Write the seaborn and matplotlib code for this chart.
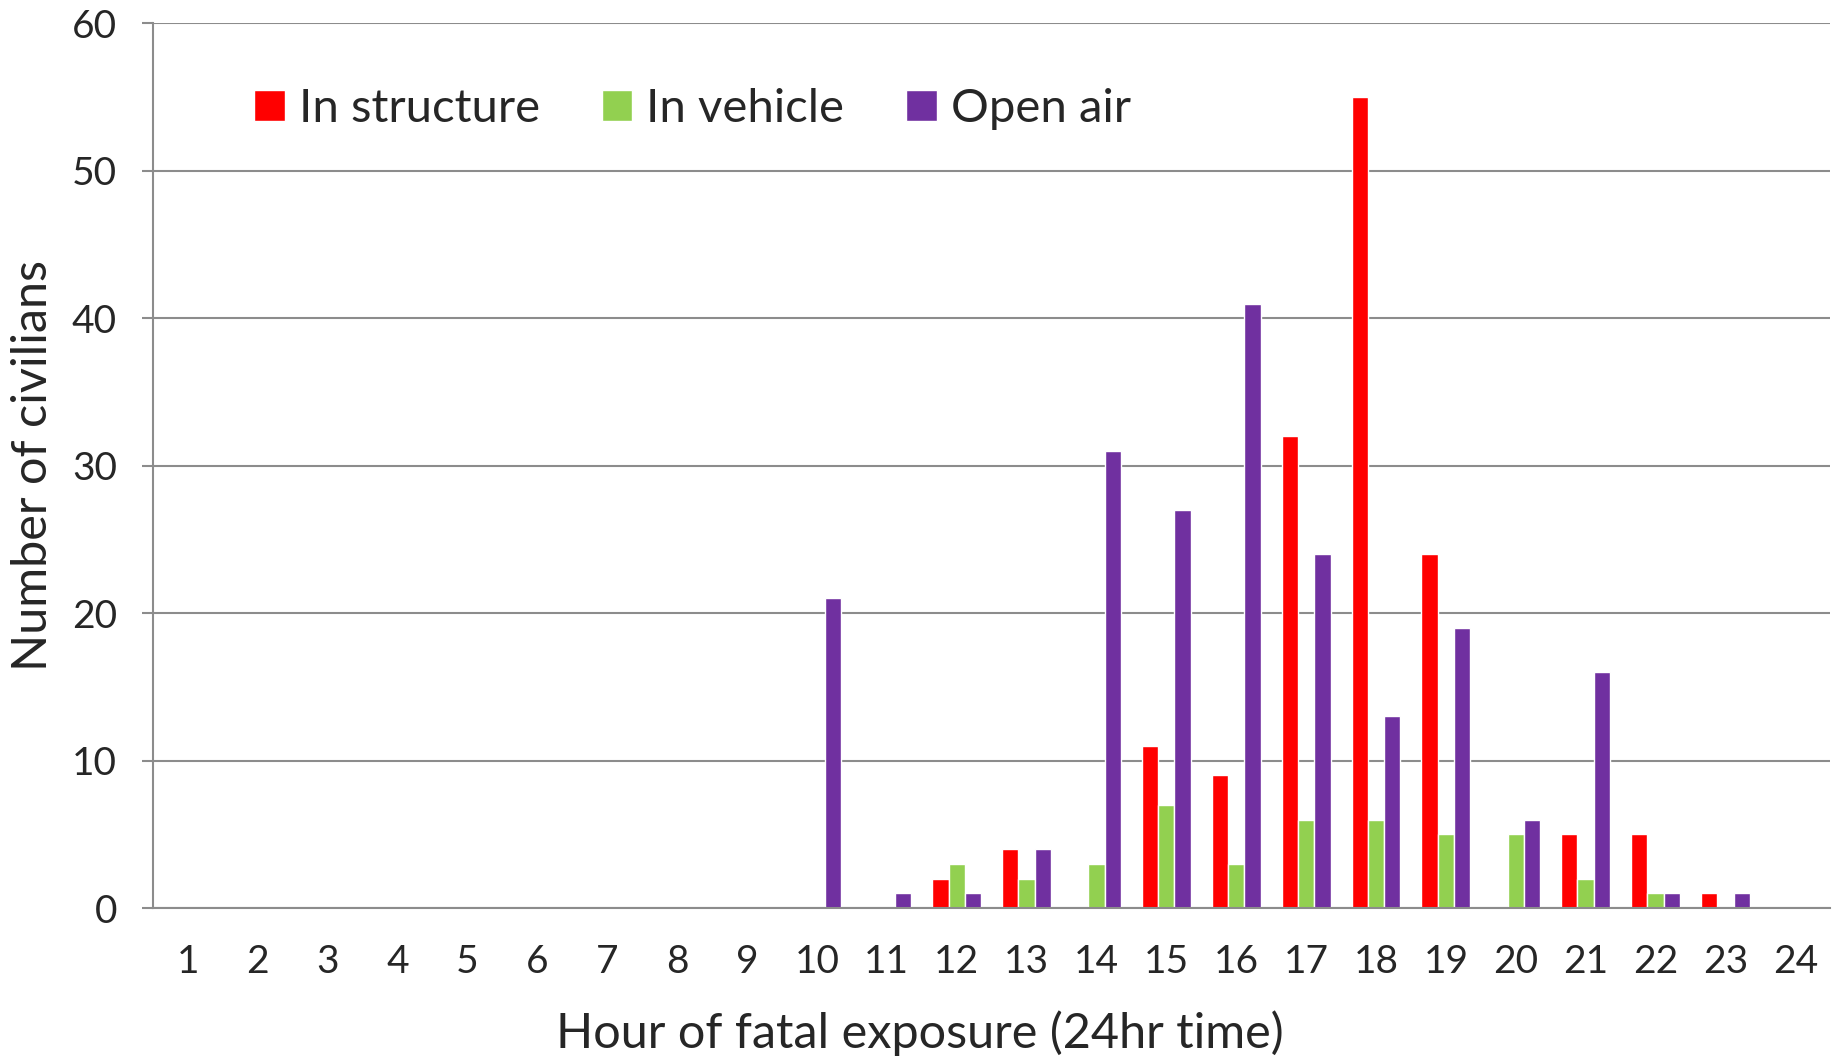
import pandas as pd
import matplotlib.pyplot as plt
import seaborn as sns
from matplotlib.ticker import FixedLocator

sns.set_style("white")
plt.rcParams['font.family'] = ['Lato', 'DejaVu Sans']

hours = [str(h) for h in range(1, 25)]
in_structure = [0, 0, 0, 0, 0, 0, 0, 0, 0, 0, 0, 2, 4, 0, 11, 9, 32, 55, 24, 0, 5, 5, 1, 0]
in_vehicle = [0, 0, 0, 0, 0, 0, 0, 0, 0, 0, 0, 3, 2, 3, 7, 3, 6, 6, 5, 5, 2, 1, 0, 0]
open_air = [0, 0, 0, 0, 0, 0, 0, 0, 0, 21, 1, 1, 4, 31, 27, 41, 24, 13, 19, 6, 16, 1, 1, 0]

series = ['In structure', 'In vehicle', 'Open air']
colors = ['#FF0000', '#92D050', '#7030A0']

df = pd.DataFrame({'Hour': hours * 3,
                   'Location': [s for s in series for _ in hours],
                   'Count': in_structure + in_vehicle + open_air})

fig = plt.figure(figsize=(18.37, 10.64), dpi=100)
ax = fig.add_axes([0.0833, 0.1466, 0.913, 0.8314])

sns.barplot(data=df, x='Hour', y='Count', hue='Location', order=hours,
            hue_order=series, palette=colors, width=0.7, gap=0,
            saturation=1, ax=ax, zorder=3)

grid_c = '#8c8c8c'
ax.set_ylim(0, 60)
ax.set_xlim(-0.5, 23.5)
ax.set_yticks(range(0, 61, 10))
ax.yaxis.grid(True, color=grid_c, linewidth=1.5, zorder=0)
for side in ['top', 'right']:
    ax.spines[side].set_visible(False)
for side in ['left', 'bottom']:
    ax.spines[side].set_color(grid_c)
    ax.spines[side].set_linewidth(1.5)
ax.spines['bottom'].set_zorder(5)

ax.xaxis.set_minor_locator(FixedLocator([i - 0.5 for i in range(25)]))
ax.tick_params(axis='x', which='major', length=0, pad=26, labelsize=28)
ax.tick_params(axis='x', which='minor', length=11, width=1.5, color=grid_c, direction='out')
ax.tick_params(axis='y', which='major', length=8, width=1.5, color=grid_c, direction='out',
               labelsize=28, pad=18, left=True)

ax.set_xlabel('Hour of fatal exposure (24hr time)', fontsize=35)
ax.set_ylabel('Number of civilians', fontsize=35)
ax.xaxis.set_label_coords(0.457, -0.1413)
ax.yaxis.set_label_coords(-0.0716, 0.5)
ax.xaxis.label.set_va('center')
ax.yaxis.label.set_va('center')

ax.legend(loc='upper left', bbox_to_anchor=(0.035, 0.975), ncol=3, frameon=False,
          fontsize=34, handlelength=0.65, handleheight=0.65, handletextpad=0.3,
          columnspacing=1.3)

plt.savefig('out.png', dpi=100)
